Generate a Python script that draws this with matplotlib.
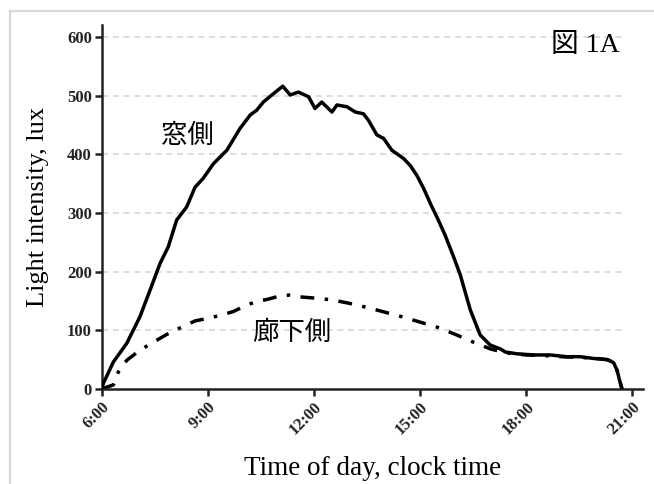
import matplotlib
matplotlib.use("Agg")
import matplotlib.pyplot as plt
from matplotlib.lines import Line2D

# ---- data (hours of day, lux) ----
window_t = [6.0, 6.05, 6.33, 6.71, 7.08, 7.37, 7.65, 7.88, 8.12, 8.40, 8.64, 8.87, 9.16, 9.54,
            9.91, 10.20, 10.38, 10.57, 10.85, 11.12, 11.33, 11.56, 11.85, 12.03, 12.22, 12.51,
            12.65, 12.93, 13.17, 13.40, 13.54, 13.78, 13.97, 14.20, 14.53, 14.72, 14.91, 15.10,
            15.30, 15.50, 15.71, 15.95, 16.14, 16.42, 16.70, 16.98, 17.28, 17.41, 17.74, 18.21,
            18.68, 19.15, 19.53, 19.91, 20.29, 20.47, 20.57, 20.64, 20.71]
window_lux = [0, 10, 46, 78, 123, 169, 214, 242, 288, 310, 344, 359, 384, 407,
              444, 467, 475, 489, 503, 516, 501, 506, 498, 478, 489, 472,
              484, 481, 472, 469, 458, 433, 427, 407, 393, 381, 364, 342,
              315, 290, 262, 225, 194, 135, 92, 75, 68, 63, 60, 58,
              58, 55, 55, 52, 50, 45, 32, 15, 0]

corridor_t = [6.0, 6.05, 6.33, 6.47, 6.71, 7.08, 7.41, 7.84, 8.21, 8.64, 8.97, 9.39, 9.72,
              10.10, 10.38, 10.70, 11.00, 11.30, 11.60, 12.00, 12.50, 13.00, 13.50, 14.00,
              14.50, 15.00, 15.50, 16.00, 16.50, 17.00, 17.50, 18.00, 18.50, 19.00, 19.50,
              20.00, 20.30, 20.47, 20.57, 20.64, 20.71]
corridor_lux = [0, 1, 7, 29, 49, 66, 78, 93, 104, 116, 120, 126, 132,
                143, 149, 153, 158, 160, 157, 155, 152, 146, 139, 131,
                123, 114, 105, 93, 80, 68, 61, 58, 57, 55, 54,
                52, 50, 45, 32, 15, 0]

y_ticks = [0, 100, 200, 300, 400, 500, 600]
x_ticks = [6, 9, 12, 15, 18, 21]
x_tick_labels = ["6:00", "9:00", "12:00", "15:00", "18:00", "21:00"]

fig = plt.figure(figsize=(6.54, 4.84), dpi=100)
ax = fig.add_axes([0.1555, 0.1963, 0.983 - 0.1555, 0.948 - 0.1963])

# grid lines
ax.hlines(y_ticks[1:], 6, 20.8, colors="#d3d3d3", linestyles=(0, (4, 3)), linewidth=1.1, zorder=0)

ax.plot(window_t, window_lux, color="black", lw=2.5, solid_joinstyle="round", zorder=3)
ax.plot(corridor_t, corridor_lux, color="black", lw=2.5, linestyle=(0, (4, 3, 1, 3)), zorder=2)

ax.set_xlim(6, 21.3)
ax.set_ylim(0, 620)
for s in ["top", "right"]:
    ax.spines[s].set_visible(False)
for s in ["left", "bottom"]:
    ax.spines[s].set_linewidth(1.8)
    ax.spines[s].set_color("#222222")

serif = ["Liberation Serif", "DejaVu Serif"]
ax.set_yticks(y_ticks)
ax.set_yticklabels([str(v) for v in y_ticks], fontfamily=serif, fontweight="bold", fontsize=12, color="#222222")
ax.set_xticks(x_ticks)
ax.set_xticklabels(x_tick_labels, fontfamily=serif, fontweight="bold", fontsize=12, color="#222222",
                   rotation=45, ha="right", rotation_mode="anchor")
ax.tick_params(axis="both", direction="out", length=5, width=1.8, color="#222222", pad=2)

ax.set_ylabel("Light intensity, lux", fontfamily=serif, fontsize=19, labelpad=13)
ax.set_xlabel("Time of day, clock time", fontfamily=serif, fontsize=19.5, labelpad=13)

jp = ["Liberation Serif", "Noto Sans CJK JP"]
ax.text(8.41, 432, "窓側", fontfamily=jp, fontsize=19, ha="center", va="center")
ax.text(11.38, 95, "廊下側", fontfamily=jp, fontsize=19, ha="center", va="center")
ax.text(19.67, 586, "図 1A", fontfamily=jp, fontsize=20, ha="center", va="center")

# light gray frame
fx = 10 / 654
fy = 1 - 11 / 484
fig.add_artist(Line2D([fx, fx], [0, fy], transform=fig.transFigure, color="#d9d9d9", lw=1.6))
fig.add_artist(Line2D([fx, 1], [fy, fy], transform=fig.transFigure, color="#d9d9d9", lw=1.6))

fig.savefig("out.png", dpi=100)
